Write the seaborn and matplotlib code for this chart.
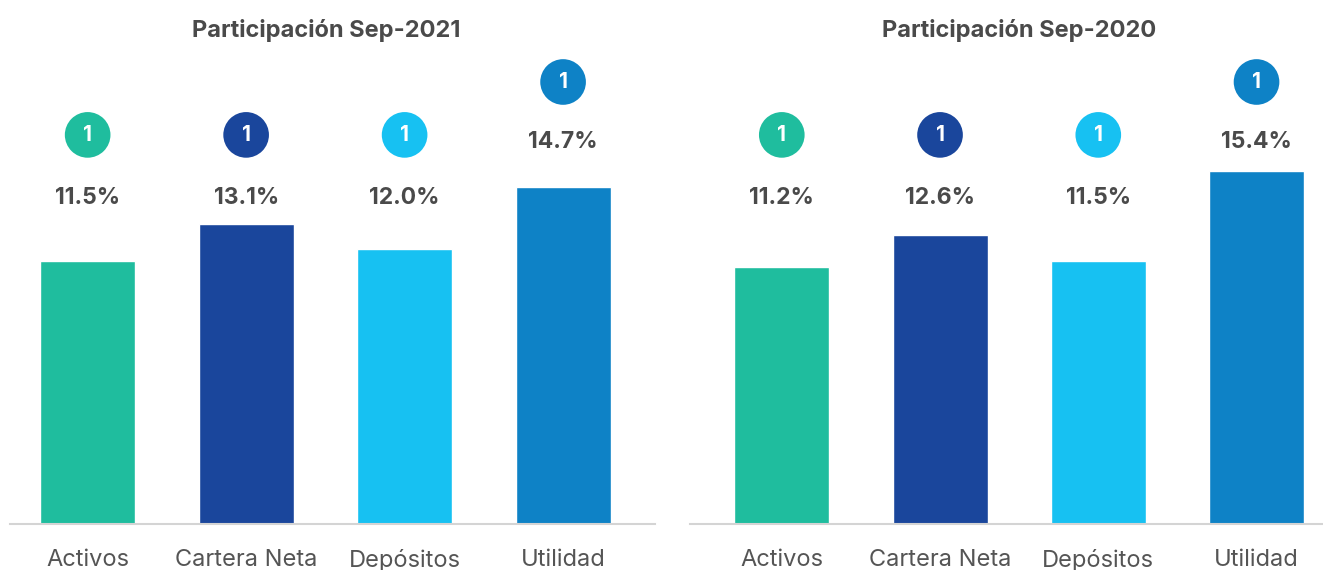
import matplotlib
matplotlib.use("Agg")
import matplotlib.pyplot as plt
import seaborn as sns
import pandas as pd

categorias = ["Activos", "Cartera Neta", "Depósitos", "Utilidad"]
part_2021 = [11.5, 13.1, 12.0, 14.7]
part_2020 = [11.2, 12.6, 11.5, 15.4]
ranking_2021 = [1, 1, 1, 1]
ranking_2020 = [1, 1, 1, 1]
titulos = ["Participación Sep-2021", "Participación Sep-2020"]
colores = ["#1FBD9E", "#1A469C", "#17C1F2", "#0E82C6"]

sns.set_theme(style="white")
plt.rcParams['font.family'] = ['Inter', 'DejaVu Sans']

TXT = "#4a4a4a"

fig = plt.figure(figsize=(13.23, 5.70), dpi=100)
W, H = 1323, 570
axes = [
    fig.add_axes([10 / W, 46 / H, 645 / W, 464 / H]),
    fig.add_axes([690 / W, 46 / H, 633 / W, 464 / H]),
]
xlims = [(-0.49, 3.58), (-0.58, 3.42)]
title_x = [0.49, 0.52]

for ax, vals, ranks, titulo, xl, tx in zip(axes, [part_2021, part_2020],
                                           [ranking_2021, ranking_2020],
                                           titulos, xlims, title_x):
    df = pd.DataFrame({"cat": categorias, "val": vals})
    sns.barplot(data=df, x="cat", y="val", hue="cat", palette=colores,
                width=0.6, saturation=1, legend=False, ax=ax)
    ax.set_xlim(*xl)
    ax.set_ylim(0, 20.26)
    ax.set_xlabel("")
    ax.set_ylabel("")
    ax.set_yticks([])
    for s in ["top", "right", "left"]:
        ax.spines[s].set_visible(False)
    ax.spines["bottom"].set_color("#d4d4d4")
    ax.spines["bottom"].set_linewidth(1.5)
    ax.tick_params(axis="x", length=0, pad=18, labelsize=17, labelcolor="#555555")

    top = max(vals)
    for i, (v, r) in enumerate(zip(vals, ranks)):
        raised = v == top
        ly = 16.68 if raised else 14.24
        cy = 19.30 if raised else 16.99
        ax.text(i, ly, f"{v:.1f}%", ha="center", va="center",
                fontsize=16.5, fontweight="bold", color=TXT)
        ax.scatter([i], [cy], s=1080, color=colores[i], edgecolors="none",
                   zorder=3, clip_on=False)
        ax.text(i, cy, str(r), ha="center", va="center", fontsize=15,
                fontweight="bold", color="white", zorder=4)

    ax.text(tx, 1 + 30 / 464, titulo, transform=ax.transAxes, ha="center",
            va="center", fontsize=17, fontweight="bold", color=TXT)

fig.savefig("out.png", dpi=100)
